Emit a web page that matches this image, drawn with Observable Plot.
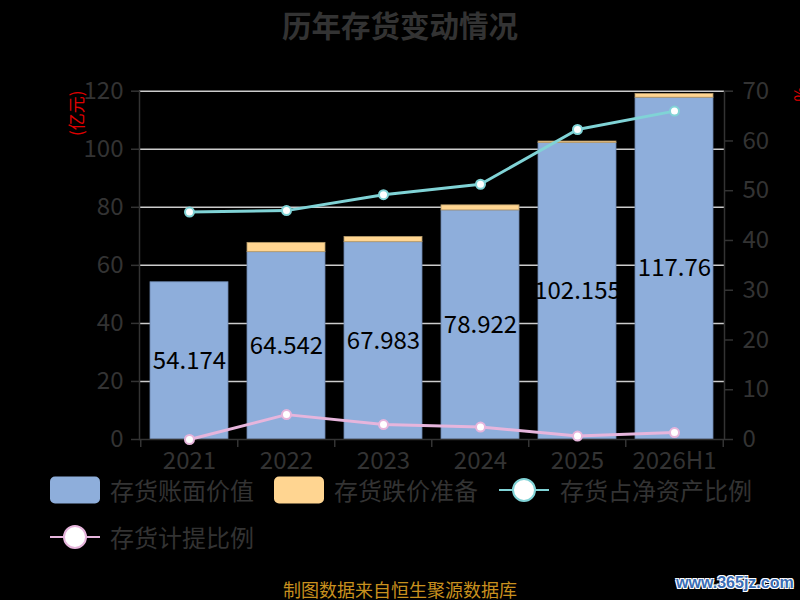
<!DOCTYPE html>
<html>
<head>
<meta charset="utf-8">
<script src="https://cdn.jsdelivr.net/npm/d3@7"></script>
<script src="https://cdn.jsdelivr.net/npm/@observablehq/plot@0.6"></script>
<style>
  html, body { margin: 0; padding: 0; background: #000; }
  #wrap { position: relative; width: 800px; height: 600px; overflow: hidden; background: #000; font-family: "Noto Sans CJK SC", "Noto Sans", sans-serif; }
  #title { position: absolute; left: 0; top: 4px; width: 800px; text-align: center; font-size: 29.5px; font-weight: bold; color: #333; line-height: 40px; }
  #chart { position: absolute; left: 0; top: 60px; }
  .leg { position: absolute; font-size: 24px; color: #333; line-height: 24px; white-space: nowrap; }
  .sw { position: absolute; }
  #foot { position: absolute; left: 0; width: 800px; top: 579px; text-align: center; font-size: 18px; color: #c8901e; line-height: 20px; }
  #wm { position: absolute; left: 676px; top: 573px; font-family: "Liberation Sans", sans-serif; font-weight: bold; font-size: 16px; color: #3a6db5; text-shadow: -1px -1px 0 #fff, 1px -1px 0 #fff, -1px 1px 0 #fff, 1px 1px 0 #fff; line-height: 20px; }
</style>
</head>
<body>
<div id="wrap">
  <div id="title">历年存货变动情况</div>
  <div id="chart"></div>
  <div id="legend"></div>
  <div id="foot">制图数据来自恒生聚源数据库</div>
  <div id="wm">www.365jz.com</div>
</div>
<script>
// ---- data ----
const years = ["2021", "2022", "2023", "2024", "2025", "2026H1"];
const bookValue = [54.174, 64.542, 67.983, 78.922, 102.155, 117.76];   // 存货账面价值 (亿元)
const reserve = [0, 3.2, 1.8, 1.75, 0.5, 1.3];                          // 存货跌价准备 (亿元)
const ratioNetAssets = [45.7, 46.0, 49.2, 51.3, 62.3, 66.0];            // 存货占净资产比例 (%)
const provisionRatio = [0, 5.0, 3.0, 2.5, 0.7, 1.4];                    // 存货计提比例 (%)
const leftTicks = [0, 20, 40, 60, 80, 100, 120];
const rightTicks = [0, 10, 20, 30, 40, 50, 60, 70];
const seriesNames = ["存货账面价值", "存货跌价准备", "存货占净资产比例", "存货计提比例"];
const colors = ["#8eaedb", "#ffd591", "#80d3d6", "#e6b5dc"];

// ---- build ----
const leftMax = 120, rightMax = 70;
const k = leftMax / rightMax;
const rows = years.map((y, i) => ({
  year: y, book: bookValue[i], res: reserve[i],
  r1: ratioNetAssets[i] * k, r2: provisionRatio[i] * k
}));

const W = 800, H = 420;
const mTop = 30.7, mBottom = 41, mLeft = 139, mRight = 76;
const plotH = H - mTop - mBottom;
const unitPx = plotH / leftMax;
const pIn = 0.2, pOut = 0.1;
const step = (W - mLeft - mRight) / (years.length - pIn + 2 * pOut);
const tickLen = 8 / unitPx;
const font = "Noto Sans CJK SC";

const chart = Plot.plot({
  width: W, height: H,
  marginTop: mTop, marginBottom: mBottom, marginLeft: mLeft, marginRight: mRight,
  style: { background: "transparent", fontFamily: font, color: "#333", overflow: "visible" },
  x: { type: "band", domain: years, paddingInner: pIn, paddingOuter: pOut },
  y: { domain: [0, leftMax] },
  marks: [
    Plot.ruleY(leftTicks.filter(v => v > 0), { stroke: "#cccccc", strokeWidth: 1.5 }),
    Plot.barY(rows, { x: "year", y1: 0, y2: "book", fill: colors[0], stroke: "#6c86ad", strokeWidth: 0.8 }),
    Plot.barY(rows.filter(d => d.res > 0), { x: "year", y1: "book", y2: d => d.book + d.res, fill: colors[1], stroke: "#b59a6a", strokeWidth: 0.8 }),
    Plot.ruleY([0], { stroke: "#333", strokeWidth: 1.5 }),
    Plot.frame({ anchor: "left", stroke: "#333", strokeWidth: 1.5 }),
    Plot.frame({ anchor: "right", stroke: "#333", strokeWidth: 1.5 }),
    Plot.ruleX(years, { x: d => d, dx: -step / 2, y1: 0, y2: -tickLen, stroke: "#333", strokeWidth: 1.5 }),
    Plot.ruleX(years.slice(-1), { x: d => d, dx: step / 2, y1: 0, y2: -tickLen, stroke: "#333", strokeWidth: 1.5 }),
    Plot.axisY(leftTicks, { anchor: "left", tickSize: 8, tickPadding: 8, fontSize: 24, color: "#333", strokeWidth: 1.5, label: null }),
    Plot.axisY(rightTicks.map(v => v * k), { anchor: "right", tickSize: 8, tickPadding: 10, fontSize: 24, color: "#333", strokeWidth: 1.5, label: null, tickFormat: d => String(Math.round(d / k)) }),
    Plot.axisX(years, { anchor: "bottom", tickSize: 0, tickPadding: 12, fontSize: 24, color: "#333", label: null }),
    Plot.text(rows, { x: "year", y: d => d.book / 2, text: d => String(d.book), fontSize: 24, fill: "#000" }),
    Plot.lineY(rows, { x: "year", y: "r1", stroke: colors[2], strokeWidth: 3 }),
    Plot.dot(rows, { x: "year", y: "r1", r: 4.5, fill: "#fff", stroke: colors[2], strokeWidth: 2 }),
    Plot.lineY(rows, { x: "year", y: "r2", stroke: colors[3], strokeWidth: 3 }),
    Plot.dot(rows, { x: "year", y: "r2", r: 4.5, fill: "#fff", stroke: colors[3], strokeWidth: 2 }),
    Plot.text(["(亿元)"], { frameAnchor: "top-left", dx: -62, dy: 22, rotate: -90, textAnchor: "middle", lineAnchor: "middle", fill: "#e00000", fontSize: 17, text: d => d }),
    Plot.text(["%"], { frameAnchor: "top-right", dx: 75, dy: 3, rotate: 90, textAnchor: "middle", lineAnchor: "middle", fill: "#e00000", fontSize: 16, text: d => d })
  ]
});
document.getElementById("chart").appendChild(chart);

// ---- legend ----
const legend = document.getElementById("legend");
const legItems = [
  { kind: "rect", color: colors[0], x: 50, y: 490, tx: 110, name: seriesNames[0] },
  { kind: "rect", color: colors[1], x: 274, y: 490, tx: 334, name: seriesNames[1] },
  { kind: "line", color: colors[2], x: 499, y: 490, tx: 560, name: seriesNames[2] },
  { kind: "line", color: colors[3], x: 50, y: 537, tx: 110, name: seriesNames[3] }
];
for (const it of legItems) {
  const svg = d3.create("svg").attr("class", "sw").attr("width", 50).attr("height", 28)
    .style("left", it.x + "px").style("top", (it.y - 14) + "px");
  if (it.kind === "rect") {
    svg.append("rect").attr("x", 0).attr("y", 0.5).attr("width", 50).attr("height", 27).attr("rx", 5).attr("fill", it.color);
  } else {
    svg.append("line").attr("x1", 0).attr("x2", 50).attr("y1", 14).attr("y2", 14).attr("stroke", it.color).attr("stroke-width", 2);
    svg.append("circle").attr("cx", 25).attr("cy", 14).attr("r", 11).attr("fill", "#fff").attr("stroke", it.color).attr("stroke-width", 2);
  }
  legend.appendChild(svg.node());
  const t = document.createElement("div");
  t.className = "leg";
  t.textContent = it.name;
  t.style.left = it.tx + "px";
  t.style.top = (it.y - 12) + "px";
  legend.appendChild(t);
}
</script>
</body>
</html>
